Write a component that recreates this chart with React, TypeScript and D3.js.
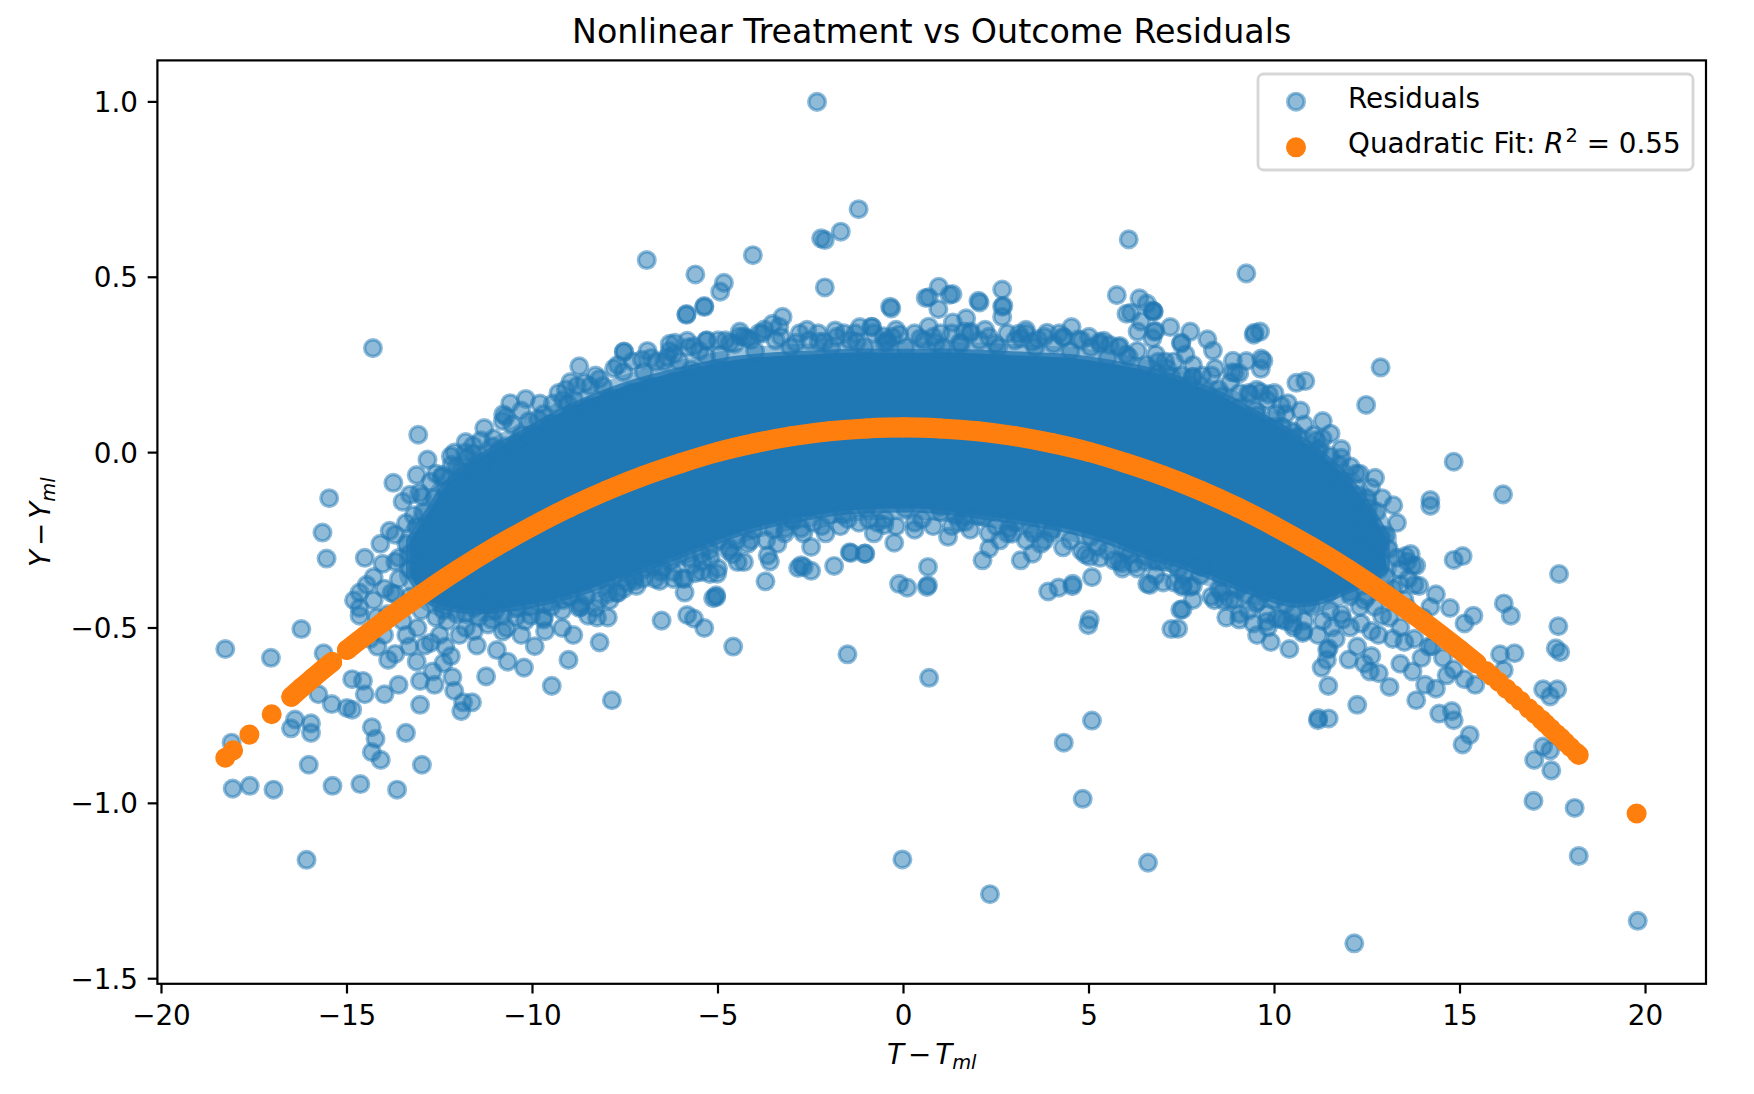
import React from "react";
import * as d3 from "d3";

// ---------- data ----------
const xTicks = [-20, -15, -10, -5, 0, 5, 10, 15, 20];
const yTicks = [-1.5, -1.0, -0.5, 0.0, 0.5, 1.0];

// dense (saturated) core of the residual cloud
const coreX = [-13.3, -12.8, -12.3, -11.5, -10.5, -9.5, -8.5, -7.5, -6.5, -5.5, -4.5, -3.5, -2.5, -1.5, -0.5, 0.5, 1.5, 2.5, 3.5, 4.5, 5.5, 6.5, 7.5, 8.5, 9.5, 10.5, 11.3, 12.0, 12.5, 13.0];
const coreTop = [-0.25, -0.17, -0.09, -0.02, 0.04, 0.10, 0.15, 0.19, 0.22, 0.245, 0.265, 0.275, 0.28, 0.285, 0.285, 0.285, 0.285, 0.28, 0.275, 0.27, 0.255, 0.235, 0.205, 0.165, 0.11, 0.05, -0.01, -0.08, -0.15, -0.24];
const coreBot = [-0.35, -0.42, -0.44, -0.45, -0.44, -0.42, -0.39, -0.35, -0.31, -0.27, -0.23, -0.20, -0.18, -0.165, -0.16, -0.16, -0.17, -0.185, -0.20, -0.22, -0.25, -0.29, -0.32, -0.36, -0.40, -0.43, -0.42, -0.39, -0.37, -0.33];

// crowded points right along the edge of the core
const upperEdgeResiduals: [number, number][] = [
  [-12.45, -0.07], [-12.05, -0.04], [-11.6, 0.02], [-11.05, 0.04], [-10.55, 0.08], [-10.1, 0.09], [-9.45, 0.14], [-9.05, 0.14], [-8.45, 0.19], [-8.1, 0.19], [-7.55, 0.23], [-7.0, 0.23], [-6.45, 0.26], [-6.05, 0.26], [-5.5, 0.29], [-4.95, 0.28], [-4.55, 0.31], [-4.0, 0.29], [-3.45, 0.32], [-3.05, 0.30], [-2.55, 0.32], [-1.95, 0.30], [-1.45, 0.32], [-1.05, 0.30], [-0.45, 0.32], [0.05, 0.30], [0.55, 0.32], [1.05, 0.30], [1.55, 0.31], [2.05, 0.32], [2.55, 0.30], [3.0, 0.32], [3.55, 0.30], [4.05, 0.31], [4.5, 0.29], [5.05, 0.30], [5.5, 0.27], [6.0, 0.28], [6.55, 0.25], [7.05, 0.26], [7.5, 0.22], [8.05, 0.22], [8.5, 0.18], [9.05, 0.17], [9.5, 0.12], [10.05, 0.11], [10.5, 0.06], [11.05, 0.05], [11.5, -0.01], [12.05, -0.04], [12.5, -0.13],
  [-12.2, -0.01], [-11.8, 0.03], [-11.3, 0.07], [-10.8, 0.09], [-10.3, 0.12], [-9.8, 0.14], [-9.3, 0.17], [-8.8, 0.19], [-8.3, 0.22], [-7.8, 0.24], [-7.3, 0.26], [-6.8, 0.27], [-6.3, 0.29], [-5.8, 0.30], [-5.3, 0.32], [-4.8, 0.32], [-4.3, 0.33], [-3.8, 0.34], [-3.3, 0.33], [-2.8, 0.34], [-2.3, 0.34], [-1.8, 0.33], [-1.3, 0.34], [-0.8, 0.34], [-0.3, 0.33], [0.3, 0.34], [0.8, 0.33], [1.3, 0.34], [1.8, 0.34], [2.3, 0.33], [2.8, 0.34], [3.3, 0.34], [3.8, 0.33], [4.3, 0.33], [4.8, 0.32], [5.3, 0.31], [5.8, 0.30], [6.3, 0.29], [6.8, 0.28], [7.3, 0.26], [7.8, 0.25], [8.3, 0.22], [8.8, 0.20], [9.3, 0.17], [9.8, 0.15], [10.3, 0.11], [10.8, 0.08], [11.3, 0.04], [11.8, 0.01], [12.3, -0.06],
];
const lowerEdgeResiduals: [number, number][] = [
  [-12.5, -0.43], [-12.05, -0.46], [-11.45, -0.47], [-11.0, -0.45], [-10.45, -0.47], [-10.05, -0.44], [-9.5, -0.44], [-9.0, -0.41], [-8.55, -0.41], [-8.0, -0.37], [-7.45, -0.37], [-7.0, -0.33], [-6.5, -0.33], [-6.05, -0.29], [-5.45, -0.29], [-5.0, -0.25], [-4.5, -0.25], [-4.05, -0.22], [-3.5, -0.22], [-3.0, -0.19], [-2.45, -0.20], [-2.0, -0.18], [-1.5, -0.19], [-1.0, -0.16], [-0.5, -0.19], [0.05, -0.16], [0.5, -0.19], [1.0, -0.17], [1.5, -0.20], [2.05, -0.18], [2.5, -0.21], [3.0, -0.20], [3.5, -0.23], [4.0, -0.22], [4.5, -0.25], [5.05, -0.24], [5.5, -0.28], [6.0, -0.28], [6.5, -0.31], [7.0, -0.31], [7.55, -0.35], [8.0, -0.35], [8.5, -0.39], [9.0, -0.39], [9.5, -0.43], [10.0, -0.42], [10.5, -0.46], [11.0, -0.44], [11.5, -0.45], [12.05, -0.41], [12.5, -0.41],
  [-12.3, -0.48], [-11.8, -0.50], [-11.2, -0.49], [-10.7, -0.50], [-10.2, -0.48], [-9.7, -0.47], [-9.2, -0.45], [-8.7, -0.44], [-8.2, -0.42], [-7.7, -0.40], [-7.2, -0.38], [-6.7, -0.36], [-6.2, -0.34], [-5.7, -0.32], [-5.2, -0.30], [-4.7, -0.28], [-4.2, -0.26], [-3.7, -0.25], [-3.2, -0.23], [-2.7, -0.23], [-2.2, -0.21], [-1.7, -0.21], [-1.2, -0.20], [-0.7, -0.20], [-0.2, -0.21], [0.3, -0.20], [0.8, -0.21], [1.3, -0.21], [1.8, -0.22], [2.3, -0.23], [2.8, -0.23], [3.3, -0.25], [3.8, -0.25], [4.3, -0.27], [4.8, -0.28], [5.3, -0.30], [5.8, -0.31], [6.3, -0.33], [6.8, -0.35], [7.3, -0.37], [7.8, -0.38], [8.3, -0.41], [8.8, -0.42], [9.3, -0.45], [9.8, -0.46], [10.3, -0.48], [10.8, -0.48], [11.3, -0.48], [11.8, -0.46], [12.3, -0.44],
];

const leftResiduals: [number, number][] = [
  [-14.30, 0.298], [-5.85, 0.393], [-5.37, 0.415], [-7.54, 0.287], [-8.74, 0.246], [-8.98, 0.201], [-8.60, 0.199], [-9.17, 0.150], [-8.88, 0.152], [-10.72, 0.103], [-13.08, 0.051], [-12.83, -0.020], [-13.12, -0.064], [-13.75, -0.086], [-15.48, -0.130], [-15.66, -0.228], [-15.55, -0.302], [-16.23, -0.503], [-18.28, -0.560], [-17.05, -0.585], [-15.63, -0.572], [-18.11, -0.827], [-16.40, -0.761], [-16.51, -0.786], [-15.97, -0.772], [-15.97, -0.799], [-15.77, -0.689], [-15.41, -0.717], [-15.00, -0.728], [-14.86, -0.733], [-14.86, -0.646], [-14.57, -0.651], [-14.52, -0.689], [-14.33, -0.783], [-14.23, -0.816], [-14.33, -0.854], [-14.09, -0.876], [-13.99, -0.689], [-13.61, -0.662], [-13.41, -0.799], [-13.03, -0.719], [-12.98, -0.890], [-16.03, -0.890], [-18.08, -0.958], [-17.62, -0.950], [-16.98, -0.961], [-15.39, -0.950], [-14.64, -0.945], [-13.65, -0.961], [-16.09, -1.161], [-12.11, -0.679], [-11.87, -0.712], [-11.63, -0.712], [-11.92, -0.737], [-11.25, -0.638], [-9.48, -0.665], [-9.03, -0.591], [-8.19, -0.541], [-7.86, -0.706], [-6.52, -0.479], [-5.37, -0.500], [-5.13, -0.415], [-5.22, -0.346], [-5.90, -0.360], [-10.23, -0.613], [-10.67, -0.596], [-10.96, -0.563], [-9.94, -0.552], [-9.66, -0.509], [-9.70, -0.476], [-8.74, -0.443], [-8.50, -0.465], [-8.26, -0.470], [-7.97, -0.470], [-7.92, -0.421], [-7.54, -0.388], [-7.25, -0.366],
  [-11.10, -0.476], [-11.58, -0.509], [-11.97, -0.520], [-12.35, -0.553], [-12.50, -0.520], [-12.74, -0.542], [-13.12, -0.596], [-13.32, -0.553], [-13.70, -0.574], [-13.89, -0.591], [-14.18, -0.553], [-14.38, -0.531],
  [-12.69, -0.624], [-13.03, -0.651], [-12.64, -0.662], [-12.16, -0.640],
  [-14.66, -0.465], [-14.81, -0.421], [-14.66, -0.399], [-14.47, -0.377], [-14.28, -0.355], [-13.99, -0.388], [-13.70, -0.404], [-14.28, -0.421], [-14.66, -0.443],
  [-14.52, -0.300], [-14.04, -0.317], [-13.70, -0.311], [-13.31, -0.333], [-12.93, -0.333], [-13.31, -0.289], [-13.70, -0.234], [-13.85, -0.223], [-13.12, -0.212], [-13.41, -0.201],
  [-12.98, -0.125], [-12.64, -0.130], [-12.35, -0.108], [-11.97, -0.081], [-11.58, -0.048], [-11.77, -0.015], [-11.10, 0.018], [-10.72, 0.018], [-10.43, 0.029], [-9.94, 0.040], [-9.46, 0.067],
  [-8.40, 0.133], [-7.92, 0.155], [-7.34, 0.172], [-7.05, 0.265], [-6.67, 0.259], [-6.19, 0.281], [-5.71, 0.237], [-5.32, 0.276],
  [-5.61, -0.344], [-5.42, -0.311], [-5.90, -0.399], [-6.57, -0.366],
  [-12.5, -0.25], [-12.2, -0.30], [-12.8, -0.40], [-12.4, -0.45], [-12.0, -0.42], [-11.9, -0.35], [-12.6, -0.35], [-13.0, -0.45], [-13.5, -0.48], [-12.2, -0.18], [-12.7, -0.20], [-11.8, -0.46], [-11.3, -0.43], [-13.6, -0.36], [-12.9, -0.27],
  [-13.3, -0.41], [-13.1, -0.50], [-12.6, -0.47], [-13.9, -0.46], [-13.4, -0.26], [-12.95, -0.17], [-13.5, -0.14], [-14.1, -0.26], [-14.0, -0.52], [-12.2, -0.58], [-11.5, -0.55], [-10.8, -0.51], [-10.3, -0.52], [-9.2, -0.50], [-8.9, -0.52], [-11.0, -0.05], [-10.3, 0.05], [-9.7, 0.11], [-9.1, 0.18], [-8.2, 0.21], [-7.7, 0.25], [-6.9, 0.29], [-6.3, 0.31],
  [-13.6, -0.30], [-13.8, -0.40], [-14.2, -0.47], [-13.4, -0.52], [-12.9, -0.55], [-12.4, -0.60], [-13.3, -0.12], [-12.6, -0.06], [-12.1, 0.00],
  [-11.39, -0.026], [-10.91, 0.007], [-10.43, 0.018], [-10.04, 0.051], [-9.46, 0.084], [-8.98, 0.106], [-8.50, 0.128], [-7.92, 0.139], [-7.34, 0.161], [-6.76, 0.188], [-6.19, 0.204], [-5.61, 0.226], [-5.03, 0.237],
  [-11.58, -0.443], [-11.20, -0.432], [-10.81, -0.465], [-10.43, -0.443], [-10.04, -0.465], [-9.66, -0.432], [-9.17, -0.421], [-8.69, -0.432], [-8.31, -0.443], [-7.73, -0.399], [-7.25, -0.355], [-6.76, -0.322], [-6.28, -0.311], [-5.80, -0.300], [-5.22, -0.278],
  [-10.79, 0.109], [-10.60, 0.141], [-10.18, 0.153], [-9.85, 0.096], [-11.39, 0.035], [-11.60, -0.003], [-11.81, 0.0], [-11.93, -0.054], [-12.18, -0.035], [-12.42, -0.064], [-12.75, -0.083], [-13.05, -0.115], [-13.20, -0.179],
];

const centerResiduals: [number, number][] = [
  [-1.21, 0.694], [-2.22, 0.611], [-2.12, 0.606], [-1.69, 0.630], [-6.92, 0.549], [-4.06, 0.563], [-5.61, 0.508], [-4.84, 0.484], [-4.94, 0.459], [-5.37, 0.418], [-5.85, 0.395], [-2.12, 0.471], [-0.36, 0.416], [-0.33, 0.411], [0.68, 0.443], [0.95, 0.473], [1.32, 0.452], [2.02, 0.433], [2.66, 0.465], [2.66, 0.416], [2.66, 0.387], [6.07, 0.608], [5.75, 0.449], [6.36, 0.440], [6.13, 0.399], [6.71, 0.405], [6.76, 0.345], [7.48, 0.311], [7.80, 0.216], [-7.53, 0.288], [-4.41, 0.345], [-4.68, 0.313], [-4.11, 0.321], [-3.35, 0.359], [-2.28, 0.316], [-0.86, 0.359], [-0.11, 0.337], [-0.52, 0.313], [-1.26, 0.316], [0.68, 0.359], [0.87, 0.313], [1.81, 0.345], [1.51, 0.313], [3.16, 0.326], [3.62, 0.323], [4.33, 0.328], [5.40, 0.319], [5.56, 0.307], [6.07, 0.273], [6.86, 0.259], [7.11, 0.240],
  [-1.64, -0.178], [-0.94, -0.191], [-0.52, -0.207], [-0.25, -0.257], [-1.42, -0.286], [-1.05, -0.288], [-2.49, -0.269], [-2.76, -0.321], [-2.49, -0.337], [-3.66, -0.293], [-4.12, -0.250], [-4.47, -0.312], [-4.30, -0.312], [-5.00, -0.330], [-5.45, -0.340], [-5.96, -0.359], [-5.05, -0.407], [-3.18, -0.216], [-2.97, -0.193], [-2.76, -0.216], [0.66, -0.326], [0.66, -0.378], [0.10, -0.385], [2.31, -0.273], [2.13, -0.307], [2.93, -0.231], [3.43, -0.219], [3.16, -0.307], [3.48, -0.288], [3.96, -0.229], [4.18, -0.385], [4.55, -0.381], [5.08, -0.355], [6.57, -0.374], [7.53, -0.378], [1.62, -0.183], [2.15, -0.183], [0.97, -0.155], [1.40, -0.179], [-6.54, -0.340], [-7.02, -0.359], [-7.56, -0.330], [-7.98, -0.402], [5.24, -0.269], [5.67, -0.307], [6.20, -0.316], [6.73, -0.307], [7.27, -0.316], [8.01, -0.326],
  [-4.59, -0.553], [-5.83, -0.463], [-5.65, -0.473], [-5.05, -0.412], [-5.02, -0.345], [-4.68, -0.272], [-2.84, -0.329], [-2.69, -0.326], [-3.60, -0.310], [-3.72, -0.367], [-1.45, -0.284], [-1.03, -0.288], [-1.51, -0.575], [-1.87, -0.323], [1.54, -0.153], [1.66, -0.198], [2.84, -0.217], [3.90, -0.396], [4.56, -0.374], [5.02, -0.297], [5.89, -0.316], [6.10, -0.291], [7.40, -0.502], [7.52, -0.447], [7.73, -0.383], [8.64, -0.422], [9.21, -0.403], [9.55, -0.425], [9.06, -0.460], [10.06, -0.473], [9.79, -0.482], [10.51, -0.498], [10.76, -0.514],
  [-6.37, 0.272], [-6.16, 0.313], [-5.83, 0.319], [-5.65, 0.303], [-5.32, 0.319], [-4.41, 0.332], [-4.20, 0.326], [-3.75, 0.351], [-3.53, 0.367], [-3.26, 0.387], [-2.90, 0.313], [-2.14, 0.316], [-1.84, 0.348], [-1.18, 0.358], [-0.85, 0.358], [-0.54, 0.332], [-0.42, 0.313], [0.45, 0.326], [0.60, 0.441], [0.94, 0.409], [1.24, 0.450], [1.33, 0.371], [1.63, 0.345], [1.69, 0.383], [2.05, 0.428], [2.48, 0.310], [2.69, 0.419], [3.11, 0.339], [3.47, 0.316], [3.87, 0.342], [4.53, 0.358], [4.71, 0.323], [5.29, 0.316], [5.83, 0.304], [6.31, 0.345], [6.01, 0.396], [6.40, 0.374], [6.56, 0.425], [6.74, 0.403], [6.71, 0.326], [7.19, 0.358], [7.73, 0.345], [8.19, 0.323], [8.34, 0.291], [8.88, 0.262], [8.94, 0.227], [9.46, 0.342], [9.61, 0.345], [9.70, 0.262], [9.64, 0.268], [9.52, 0.179], [9.85, 0.166], [10.18, 0.134], [10.36, 0.141],
  [-3.9, 0.34], [-2.6, 0.35], [-1.6, 0.34], [-0.2, 0.35], [1.0, 0.34], [2.2, 0.35], [3.3, 0.35], [4.2, 0.34], [5.0, 0.33], [-5.0, 0.32], [-2.1, -0.23], [-0.8, -0.23], [0.3, -0.22], [1.2, -0.24], [2.6, -0.25], [3.7, -0.26], [4.9, -0.29], [-3.4, -0.26], [-4.6, -0.29], [-6.2, -0.36], [5.9, -0.33], [7.0, -0.37],
];

const rightResiduals: [number, number][] = [
  [6.74, 0.402], [6.79, 0.347], [7.49, 0.314], [9.44, 0.336], [9.24, 0.261], [9.63, 0.239], [8.86, 0.229], [9.05, 0.226], [7.80, 0.215], [10.59, 0.199], [10.83, 0.204], [12.86, 0.243], [12.47, 0.136], [9.34, 0.166], [9.63, 0.172], [9.82, 0.073], [10.21, 0.073], [10.64, 0.045], [11.22, 0.012], [11.80, -0.015], [11.75, -0.081], [11.80, -0.090], [12.71, -0.072], [14.83, -0.026], [16.16, -0.119], [14.20, -0.135], [14.20, -0.152], [12.52, -0.157], [12.76, -0.168], [12.90, -0.236], [12.52, -0.196], [12.42, -0.224], [12.81, -0.267], [13.58, -0.311], [13.82, -0.322], [13.39, -0.333], [13.77, -0.377], [14.83, -0.306], [15.07, -0.295], [17.67, -0.346], [16.18, -0.430], [16.37, -0.465], [14.35, -0.404], [14.73, -0.443], [15.12, -0.487], [15.36, -0.465], [17.65, -0.495], [16.08, -0.575], [16.47, -0.572], [16.18, -0.620], [17.58, -0.558], [17.70, -0.569], [17.24, -0.675], [17.62, -0.675], [17.43, -0.695], [17.24, -0.838], [17.43, -0.849], [17.00, -0.876], [17.46, -0.906], [16.98, -0.993], [18.09, -1.013], [18.20, -1.150], [15.26, -0.805], [15.07, -0.832], [14.78, -0.737], [14.44, -0.744], [14.83, -0.763], [13.82, -0.706], [13.10, -0.668], [12.23, -0.719], [11.17, -0.763], [11.46, -0.758], [11.27, -0.613], [11.41, -0.591], [11.46, -0.558], [12.57, -0.624], [12.81, -0.629], [12.42, -0.602], [12.61, -0.580], [13.39, -0.602], [13.72, -0.624], [13.96, -0.585], [14.25, -0.552], [14.06, -0.662], [14.35, -0.673], [14.64, -0.635], [15.12, -0.646], [15.41, -0.662], [13.39, -0.377], [13.72, -0.322], [13.67, -0.289], [13.53, -0.295], [12.33, -0.487], [12.04, -0.498], [11.84, -0.476], [11.55, -0.498], [11.65, -0.531], [11.17, -0.520], [10.78, -0.509], [10.49, -0.487], [10.20, -0.476], [9.82, -0.498], [9.53, -0.520], [9.43, -0.487], [9.05, -0.476], [8.91, -0.421], [8.38, -0.421], [8.57, -0.399], [7.51, -0.382], [7.46, -0.448], [7.22, -0.503], [6.64, -0.377],
  [11.51, 0.054], [11.15, 0.003], [11.12, 0.035], [11.75, -0.035], [11.87, -0.083], [12.24, -0.121], [12.45, -0.185], [12.48, -0.227], [12.69, -0.243], [13.08, -0.275], [13.00, -0.236], [9.24, 0.511], [11.42, -0.562], [11.45, -0.665], [11.18, -0.757],
  [6.83, 0.226], [7.22, 0.215], [7.70, 0.193], [8.18, 0.171], [8.57, 0.160], [9.05, 0.128], [9.53, 0.106], [10.01, 0.073], [10.49, 0.040], [10.98, -0.004], [11.46, -0.059], [11.84, -0.114], [12.13, -0.180],
  [6.83, -0.311], [7.41, -0.333], [7.99, -0.322], [8.57, -0.355], [9.15, -0.377], [9.72, -0.399], [10.30, -0.432], [10.88, -0.432], [11.46, -0.399], [12.04, -0.333], [12.61, -0.311], [13.00, -0.355],
  [12.04, -0.224], [12.42, -0.278], [12.81, -0.333], [13.19, -0.388], [13.58, -0.443], [12.90, -0.465], [12.42, -0.421], [12.04, -0.399], [13.39, -0.498], [13.77, -0.531], [14.16, -0.553], [14.54, -0.585], [14.83, -0.618], [13.19, -0.531], [12.61, -0.509], [12.23, -0.553],
  [12.9, -0.13], [13.3, -0.20], [13.0, -0.40], [12.7, -0.44], [13.5, -0.42], [14.0, -0.47], [13.9, -0.38], [12.3, -0.36], [11.9, -0.30], [12.2, -0.06], [11.3, 0.09], [10.7, 0.12], [10.0, 0.17], [8.4, 0.24], [7.6, 0.28], [9.9, -0.54], [8.7, -0.47], [7.8, -0.42], [12.0, -0.59], [10.4, -0.56],
  [13.3, -0.30], [13.6, -0.36], [14.2, -0.44], [13.1, -0.47], [12.8, -0.52], [13.5, -0.54], [12.6, -0.10], [13.2, -0.15],
];

const outlierResiduals: [number, number][] = [
  [-2.33, 1.0], [4.32, -0.827], [5.08, -0.764], [5.02, -0.476], [4.98, -0.492], [4.83, -0.987], [-0.12, -0.374], [0.63, -0.383], [0.69, -0.642], [-0.03, -1.160], [2.33, -1.259], [6.59, -1.169], [12.15, -1.399], [19.79, -1.335],
];

// quadratic fit points (orange)
const fitDenseX = [-15.0, -14, -13, -12, -11, -10, -9, -8, -7, -6, -5, -4, -3, -2, -1, 0, 1, 2, 3, 4, 5, 6, 7, 8, 9, 10, 11, 12, 13, 14, 15, 15.45];
const fitDenseY = [-0.5625, -0.481, -0.405, -0.334, -0.269, -0.210, -0.156, -0.108, -0.066, -0.030, 0.002, 0.027, 0.047, 0.061, 0.069, 0.072, 0.069, 0.061, 0.047, 0.027, 0.002, -0.030, -0.066, -0.108, -0.156, -0.210, -0.269, -0.334, -0.405, -0.481, -0.5625, -0.601];
const fitBlobX = [-16.5, -16.2, -15.9, -15.6, -15.4];
const fitBlobY = [-0.696, -0.668, -0.641, -0.614, -0.597];
const fitSparseX = [-18.28, -18.07, -17.63, -17.03, 15.7, 15.86, 16.05, 16.25, 16.45, 16.63, 16.85, 17.02, 17.2, 17.31, 17.45, 17.6, 17.72, 17.84, 17.98, 18.13, 18.2, 19.76];
const fitSparseY = [-0.870, -0.849, -0.804, -0.746, -0.623, -0.637, -0.654, -0.673, -0.691, -0.708, -0.729, -0.745, -0.762, -0.773, -0.787, -0.802, -0.813, -0.826, -0.840, -0.855, -0.862, -1.029];

const titleText = "Nonlinear Treatment vs Outcome Residuals";
const legendLabels = ["Residuals", "Quadratic Fit: "];
const r2Text = " = 0.55";

// ---------- layout ----------
const W = 1754;
const H = 1094;
const AX = { left: 157.4, right: 1706, top: 60.4, bottom: 983.8 };
const BLUE = "#1f77b4";
const ORANGE = "#ff7f0e";
const FONT = "DejaVu Sans";
const R = 8.33;
const EDGE = 3.4;

export default function App() {
  const x = d3.scaleLinear().domain([-20.11, 21.63]).range([AX.left, AX.right]);
  const y = d3.scaleLinear().domain([-1.5145, 1.1183]).range([AX.bottom, AX.top]);

  const core = coreX.map((cx, i) => ({ x: cx, top: coreTop[i], bot: coreBot[i] }));
  const coreArea = d3
    .area<{ x: number; top: number; bot: number }>()
    .x((d) => x(d.x))
    .y0((d) => y(d.bot))
    .y1((d) => y(d.top))
    .curve(d3.curveCatmullRom);

  const residuals = [
    ...upperEdgeResiduals,
    ...lowerEdgeResiduals,
    ...leftResiduals,
    ...centerResiduals,
    ...rightResiduals,
    ...outlierResiduals,
  ];

  const dense = fitDenseX.map((v, i) => [v, fitDenseY[i]] as [number, number]);
  const blob = fitBlobX.map((v, i) => [v, fitBlobY[i]] as [number, number]);
  const sparse = fitSparseX.map((v, i) => [v, fitSparseY[i]] as [number, number]);
  const fitLine = d3
    .line<[number, number]>()
    .x((d) => x(d[0]))
    .y((d) => y(d[1]))
    .curve(d3.curveMonotoneX);

  const tickLen = 9.7;
  const axisW = 2.2;
  const fs = 27.8;
  const cx = (AX.left + AX.right) / 2;
  const cy = (AX.top + AX.bottom) / 2;
  const fmtY = (v: number) => (v < 0 ? "\u2212" : "") + Math.abs(v).toFixed(1);
  const fmtX = (v: number) => (v < 0 ? "\u2212" : "") + Math.abs(v).toString();

  const legX = 1258;
  const legY = 74;
  const corePath = coreArea(core) || "";

  return (
    <svg
      width={W}
      height={H}
      viewBox={`0 0 ${W} ${H}`}
      style={{ position: "absolute", left: 0, top: 0, background: "#fff" }}
      fontFamily={FONT}
    >
      <rect x={0} y={0} width={W} height={H} fill="#fff" />
      <defs>
        <clipPath id="axclip">
          <rect x={AX.left} y={AX.top} width={AX.right - AX.left} height={AX.bottom - AX.top} />
        </clipPath>
      </defs>

      <g clipPath="url(#axclip)">
        {/* residual cloud: saturated core with a soft rim */}
        <path d={corePath} fill="none" stroke={BLUE} strokeOpacity={0.45} strokeWidth={22} strokeLinejoin="round" />
        <path d={corePath} fill={BLUE} stroke={BLUE} strokeOpacity={0.8} strokeWidth={8} strokeLinejoin="round" />
        {residuals.map((d, i) => (
          <circle
            key={"r" + i}
            cx={x(d[0])}
            cy={y(d[1])}
            r={R}
            fill={BLUE}
            fillOpacity={0.5}
            stroke={BLUE}
            strokeOpacity={0.5}
            strokeWidth={EDGE}
          />
        ))}
        {/* quadratic fit */}
        <path d={fitLine(dense) || ""} fill="none" stroke={ORANGE} strokeWidth={2 * R + EDGE} strokeLinecap="round" />
        <path d={fitLine(blob) || ""} fill="none" stroke={ORANGE} strokeWidth={2 * R + EDGE} strokeLinecap="round" />
        {[...dense, ...blob, ...sparse].map((d, i) => (
          <circle key={"f" + i} cx={x(d[0])} cy={y(d[1])} r={R} fill={ORANGE} stroke={ORANGE} strokeWidth={EDGE} />
        ))}
      </g>

      {/* axes frame */}
      <rect
        x={AX.left}
        y={AX.top}
        width={AX.right - AX.left}
        height={AX.bottom - AX.top}
        fill="none"
        stroke="#000"
        strokeWidth={axisW}
      />

      {/* x ticks */}
      {xTicks.map((t) => (
        <g key={"xt" + t}>
          <line x1={x(t)} x2={x(t)} y1={AX.bottom} y2={AX.bottom + tickLen} stroke="#000" strokeWidth={axisW} />
          <text x={x(t)} y={1025} fontSize={fs} textAnchor="middle" fill="#000">
            {fmtX(t)}
          </text>
        </g>
      ))}
      {/* y ticks */}
      {yTicks.map((t) => (
        <g key={"yt" + t}>
          <line x1={AX.left - tickLen} x2={AX.left} y1={y(t)} y2={y(t)} stroke="#000" strokeWidth={axisW} />
          <text x={AX.left - 2 * tickLen} y={y(t) + 10} fontSize={fs} textAnchor="end" fill="#000">
            {fmtY(t)}
          </text>
        </g>
      ))}

      {/* axis labels */}
      <text x={cx} y={1064} fontSize={fs} textAnchor="middle" fill="#000">
        <tspan fontStyle="italic">T</tspan>
        <tspan dx={4}>{"\u2212"}</tspan>
        <tspan dx={4} fontStyle="italic">T</tspan>
        <tspan fontStyle="italic" fontSize={fs * 0.7} dy={5}>ml</tspan>
      </text>
      <text transform={`translate(50,${cy}) rotate(-90)`} fontSize={fs} textAnchor="middle" fill="#000">
        <tspan fontStyle="italic">Y</tspan>
        <tspan dx={4}>{"\u2212"}</tspan>
        <tspan dx={4} fontStyle="italic">Y</tspan>
        <tspan fontStyle="italic" fontSize={fs * 0.7} dy={5}>ml</tspan>
      </text>

      {/* title */}
      <text x={cx} y={42.7} fontSize={33.3} textAnchor="middle" fill="#000">
        {titleText}
      </text>

      {/* legend */}
      <rect
        x={legX}
        y={legY}
        width={435}
        height={96}
        rx={5.5}
        fill="#fff"
        fillOpacity={0.8}
        stroke="#cccccc"
        strokeOpacity={0.8}
        strokeWidth={2.78}
      />
      <circle cx={1296} cy={101.7} r={R} fill={BLUE} fillOpacity={0.5} stroke={BLUE} strokeOpacity={0.5} strokeWidth={EDGE} />
      <circle cx={1296} cy={147.3} r={R} fill={ORANGE} stroke={ORANGE} strokeWidth={EDGE} />
      <text x={1348} y={107.5} fontSize={fs} fill="#000">
        {legendLabels[0]}
      </text>
      <text x={1348} y={153.3} fontSize={fs} fill="#000" xmlSpace="preserve">
        <tspan>{legendLabels[1]}</tspan>
        <tspan fontStyle="italic">R</tspan>
        <tspan dx={2} dy={-11} fontSize={fs * 0.7}>2</tspan>
        <tspan dy={11}>{r2Text}</tspan>
      </text>
    </svg>
  );
}
